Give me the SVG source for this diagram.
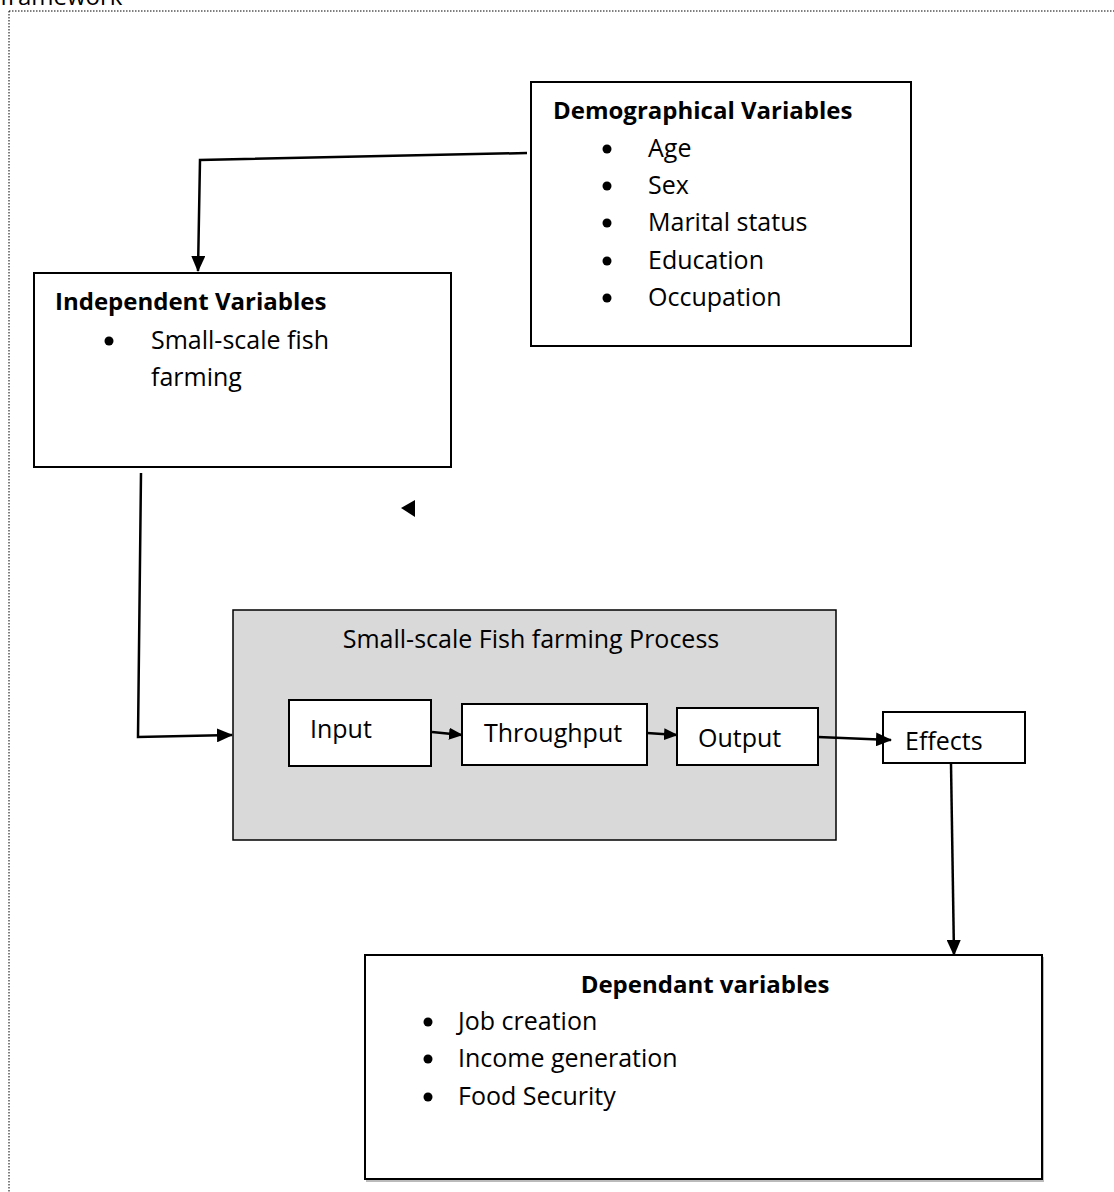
<svg xmlns="http://www.w3.org/2000/svg" width="1114" height="1192" viewBox="0 0 1114 1192">
<style>
text{font-family:"Open Sans","Noto Sans","Liberation Sans",sans-serif;font-size:25px;fill:#000}
.b{font-weight:bold;font-size:24px}
.box{fill:#fff;stroke:#000;stroke-width:2}
.ln{fill:none;stroke:#000;stroke-width:2.5}
</style>
<defs>
<marker id="ah" markerWidth="14" markerHeight="12" refX="13" refY="6" orient="auto" markerUnits="userSpaceOnUse">
<path d="M0,0 L14,6 L0,12 Z" fill="#000"/>
</marker>
<marker id="ahs" markerWidth="16" markerHeight="14" refX="15" refY="7" orient="auto" markerUnits="userSpaceOnUse">
<path d="M0,0 L16,7 L0,14 Z" fill="#000"/>
</marker>
</defs>
<rect width="1114" height="1192" fill="#fff"/>
<text x="0" y="5" style="font-size:24px">framework</text>
<path d="M9,11 H1114 M9,11 V1192" fill="none" stroke="#000" stroke-width="1" stroke-dasharray="1.5,1.5"/>

<g id="demographical">
<rect class="box" x="531" y="82" width="380" height="264"/>
<text class="b" x="553" y="119">Demographical Variables</text>
<g>
<circle cx="607" cy="149" r="4.5"/><text x="648" y="157">Age</text>
<circle cx="607" cy="186" r="4.5"/><text x="648" y="194">Sex</text>
<circle cx="607" cy="223" r="4.5"/><text x="648" y="231">Marital status</text>
<circle cx="607" cy="261" r="4.5"/><text x="648" y="269">Education</text>
<circle cx="607" cy="298" r="4.5"/><text x="648" y="306">Occupation</text>
</g>
</g>

<g id="independent">
<rect class="box" x="34" y="273" width="417" height="194"/>
<text class="b" x="55" y="310">Independent Variables</text>
<circle cx="109" cy="341" r="4.5"/>
<text x="151" y="349">Small-scale fish</text>
<text x="151" y="386">farming</text>
</g>

<g id="process">
<rect x="233" y="610" width="603" height="230" fill="#d9d9d9" stroke="#000" stroke-width="1.5"/>
<text x="531" y="648" text-anchor="middle">Small-scale Fish farming Process</text>
</g>
<g id="input">
<rect class="box" x="289" y="700" width="142" height="66"/>
<text x="310" y="738">Input</text>
</g>
<g id="throughput">
<rect class="box" x="462" y="704" width="185" height="61"/>
<text x="484" y="742">Throughput</text>
</g>
<g id="output">
<rect class="box" x="677" y="708" width="141" height="57"/>
<text x="698" y="747">Output</text>
</g>
<g id="effects">
<rect class="box" x="883" y="712" width="142" height="51"/>
<text x="905" y="750">Effects</text>
</g>

<g id="dependant">
<rect x="366" y="957" width="678" height="225" fill="#bbb"/>
<rect class="box" x="365" y="955" width="677" height="224"/>
<text class="b" x="705" y="993" text-anchor="middle">Dependant variables</text>
<circle cx="428" cy="1022" r="4.5"/><text x="458" y="1030">Job creation</text>
<circle cx="428" cy="1059" r="4.5"/><text x="458" y="1067">Income generation</text>
<circle cx="428" cy="1097" r="4.5"/><text x="458" y="1105">Food Security</text>
</g>

<g id="connectors">
<path class="ln" d="M527,153 L200,160 L198,271" marker-end="url(#ahs)"/>
<path class="ln" d="M141,473 L138,737 L232,735" marker-end="url(#ahs)"/>
<path class="ln" d="M432,732 L462,735" marker-end="url(#ah)"/>
<path class="ln" d="M647,733 L677,735" marker-end="url(#ah)"/>
<path class="ln" d="M818,737 L891,740" marker-end="url(#ahs)"/>
<path class="ln" d="M951,764 L954,955" marker-end="url(#ahs)"/>
<path d="M401,508 L415,500 L415,517 Z" fill="#000"/>
</g>
</svg>
